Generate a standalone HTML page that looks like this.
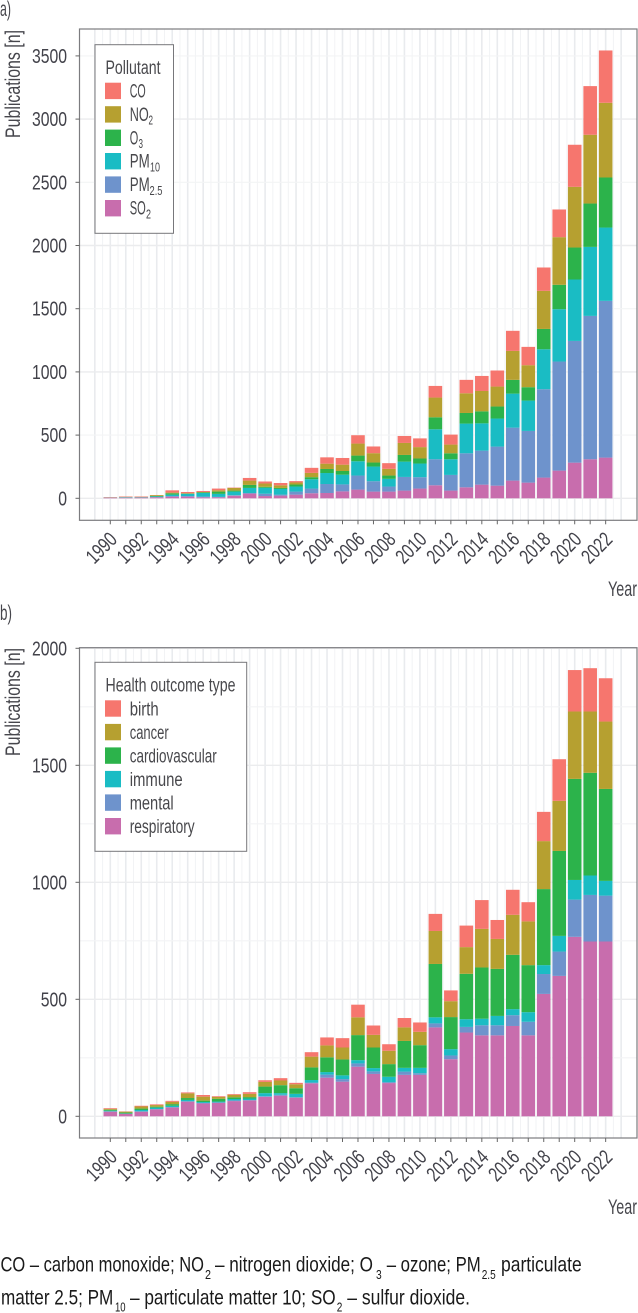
<!DOCTYPE html>
<html lang="en">
<head>
<meta charset="utf-8">
<title>Publications by pollutant and health outcome</title>
<style>
html,body{margin:0;padding:0;background:#fff;}
body{width:638px;height:1313px;overflow:hidden;}
svg{display:block;}
text{font-family:"Liberation Sans Narrow","Liberation Sans",sans-serif;}
.lg{font-size:19px;fill:#48484c;}
.lgs{font-size:12.5px;fill:#48484c;}
.ttl{font-size:21px;fill:#46464c;}
.cap{font-size:21px;fill:#1a1a1a;}
.caps{font-size:12.5px;fill:#1a1a1a;}
</style>
</head>
<body>
<svg id="figure" xmlns="http://www.w3.org/2000/svg" width="638" height="1313" viewBox="0 0 638 1313">
  <rect x="0" y="0" width="638" height="1313" fill="#fff"/>
  <g id="panel-a"></g>
  <g id="panel-b"></g>

  <text class="ttl" x="0" y="16" textLength="11" lengthAdjust="spacingAndGlyphs">a)</text>
  <text class="ttl" x="0" y="620" textLength="12" lengthAdjust="spacingAndGlyphs">b)</text>

  <text class="ttl" transform="translate(20,138) rotate(-90)" textLength="108" lengthAdjust="spacingAndGlyphs">Publications [n]</text>
  <text class="ttl" transform="translate(20,756) rotate(-90)" textLength="108" lengthAdjust="spacingAndGlyphs">Publications [n]</text>
  <text class="ttl" x="608" y="596" textLength="29" lengthAdjust="spacingAndGlyphs">Year</text>
  <text class="ttl" x="608" y="1214" textLength="29" lengthAdjust="spacingAndGlyphs">Year</text>

  <g>
    <rect x="95" y="44.7" width="78.5" height="188.6" fill="#fff" stroke="#77777b" stroke-width="1"/>
    <text class="lg" x="105.5" y="74" textLength="55" lengthAdjust="spacingAndGlyphs">Pollutant</text>
    <g>
      <rect x="105" y="82.7" width="16" height="16.4" fill="#F6766E"/>
      <text class="lg" x="129.7" y="97.5" textLength="16" lengthAdjust="spacingAndGlyphs">CO</text>
    </g>
    <g>
      <rect x="105" y="106.2" width="16" height="16.4" fill="#B6A030"/>
      <text class="lg" x="129.7" y="120.9" textLength="19" lengthAdjust="spacingAndGlyphs">NO</text>
      <text class="lgs" x="148.5" y="124.5" textLength="4.5" lengthAdjust="spacingAndGlyphs">2</text>
    </g>
    <g>
      <rect x="105" y="129.6" width="16" height="16.4" fill="#2CB34B"/>
      <text class="lg" x="129.7" y="144.3" textLength="8.5" lengthAdjust="spacingAndGlyphs">O</text>
      <text class="lgs" x="138.5" y="148" textLength="4.5" lengthAdjust="spacingAndGlyphs">3</text>
    </g>
    <g>
      <rect x="105" y="153" width="16" height="16.4" fill="#1ABCC4"/>
      <text class="lg" x="129.7" y="167.7" textLength="20" lengthAdjust="spacingAndGlyphs">PM</text>
      <text class="lgs" x="150" y="171.5" textLength="10" lengthAdjust="spacingAndGlyphs">10</text>
    </g>
    <g>
      <rect x="105" y="176.4" width="16" height="16.4" fill="#6E93CC"/>
      <text class="lg" x="129.7" y="191.1" textLength="20" lengthAdjust="spacingAndGlyphs">PM</text>
      <text class="lgs" x="149.5" y="194.9" textLength="13" lengthAdjust="spacingAndGlyphs">2.5</text>
    </g>
    <g>
      <rect x="105" y="200" width="16" height="16.4" fill="#C86DAD"/>
      <text class="lg" x="129.7" y="214.5" textLength="16" lengthAdjust="spacingAndGlyphs">SO</text>
      <text class="lgs" x="146" y="218.5" textLength="5" lengthAdjust="spacingAndGlyphs">2</text>
    </g>
  </g>

  <g>
    <rect x="95" y="662.3" width="151.7" height="189" fill="#fff" stroke="#77777b" stroke-width="1"/>
    <text class="lg" x="105.5" y="691.7" textLength="130" lengthAdjust="spacingAndGlyphs">Health outcome type</text>
    <g>
      <rect x="105" y="700.3" width="16" height="16.4" fill="#F6766E"/>
      <text class="lg" x="129.7" y="715.5" textLength="29" lengthAdjust="spacingAndGlyphs">birth</text>
    </g>
    <g>
      <rect x="105" y="723.9" width="16" height="16.4" fill="#B6A030"/>
      <text class="lg" x="129.7" y="739" textLength="39" lengthAdjust="spacingAndGlyphs">cancer</text>
    </g>
    <g>
      <rect x="105" y="747.4" width="16" height="16.4" fill="#2CB34B"/>
      <text class="lg" x="129.7" y="762.5" textLength="87" lengthAdjust="spacingAndGlyphs">cardiovascular</text>
    </g>
    <g>
      <rect x="105" y="770.9" width="16" height="16.4" fill="#1ABCC4"/>
      <text class="lg" x="129.7" y="786" textLength="53" lengthAdjust="spacingAndGlyphs">immune</text>
    </g>
    <g>
      <rect x="105" y="794.4" width="16" height="16.4" fill="#6E93CC"/>
      <text class="lg" x="129.7" y="809.5" textLength="44" lengthAdjust="spacingAndGlyphs">mental</text>
    </g>
    <g>
      <rect x="105" y="818" width="16" height="16.4" fill="#C86DAD"/>
      <text class="lg" x="129.7" y="833" textLength="65" lengthAdjust="spacingAndGlyphs">respiratory</text>
    </g>
  </g>

  <g>
    <text class="cap" x="0.5" y="1271.7" textLength="203.5" lengthAdjust="spacingAndGlyphs">CO – carbon monoxide; NO</text>
    <text class="caps" x="205" y="1279" textLength="6" lengthAdjust="spacingAndGlyphs">2</text>
    <text class="cap" x="215" y="1271.7" textLength="158" lengthAdjust="spacingAndGlyphs">– nitrogen dioxide; O</text>
    <text class="caps" x="376" y="1279" textLength="5.7" lengthAdjust="spacingAndGlyphs">3</text>
    <text class="cap" x="386.7" y="1271.7" textLength="94" lengthAdjust="spacingAndGlyphs">– ozone; PM</text>
    <text class="caps" x="481.7" y="1279" textLength="14" lengthAdjust="spacingAndGlyphs">2.5</text>
    <text class="cap" x="501" y="1271.7" textLength="80.7" lengthAdjust="spacingAndGlyphs">particulate</text>
    <text class="cap" x="1" y="1304.3" textLength="112.3" lengthAdjust="spacingAndGlyphs">matter 2.5; PM</text>
    <text class="caps" x="115" y="1311.7" textLength="10.6" lengthAdjust="spacingAndGlyphs">10</text>
    <text class="cap" x="130" y="1304.3" textLength="205.7" lengthAdjust="spacingAndGlyphs">– particulate matter 10; SO</text>
    <text class="caps" x="336.7" y="1311.7" textLength="5.6" lengthAdjust="spacingAndGlyphs">2</text>
    <text class="cap" x="347.3" y="1304.3" textLength="122.7" lengthAdjust="spacingAndGlyphs">– sulfur dioxide.</text>
  </g>
</svg>

<script>
// Shared categories
const years = [1990,1991,1992,1993,1994,1995,1996,1997,1998,1999,2000,2001,2002,2003,2004,2005,2006,2007,2008,2009,2010,2011,2012,2013,2014,2015,2016,2017,2018,2019,2020,2021,2022];
const yearTickLabels = [1990,1992,1994,1996,1998,2000,2002,2004,2006,2008,2010,2012,2014,2016,2018,2020,2022];

// Panel a values (stack order bottom to top: SO2, PM2.5, PM10, O3, NO2, CO)
const so2Values  = [4,5,6,8,13,13,8,8,21,37,18,21,29,40,42,55,69,53,53,61,77,103,61,87,108,100,140,124,164,219,282,309,322];
const pm25Values = [1,2,1,2,5,5,5,3,3,5,18,8,24,37,71,55,111,82,40,108,90,206,124,269,269,309,419,409,699,863,963,1134,1240];
const pm10Values = [1,2,2,5,11,16,29,24,29,40,47,45,40,74,87,77,113,116,61,121,108,237,124,235,216,222,269,240,316,414,486,546,580];
const o3Values   = [0,1,1,3,11,3,5,18,8,24,8,8,16,16,32,29,45,32,26,53,40,95,47,84,95,95,109,106,161,193,253,343,396];
const no2Values  = [1,2,2,7,5,3,3,11,21,34,26,21,16,34,42,50,95,74,53,95,90,156,69,156,161,158,229,174,301,377,480,544,591];
const coValues   = [3,3,3,1,18,10,8,13,3,21,16,18,11,40,50,53,66,53,45,55,69,92,79,106,119,127,159,145,185,219,333,385,414];

// Panel b values (stack order bottom to top: respiratory, mental, immune, cardiovascular, cancer, birth)
const respiratoryValues    = [20,11,20,30,38,63,55,58,65,68,83,88,80,141,165,148,212,181,142,177,177,380,244,358,346,346,386,346,523,600,767,747,747];
const mentalValues         = [1,0,1,1,1,1,2,1,3,1,3,4,1,3,13,11,14,11,4,14,7,17,16,24,43,43,46,58,85,104,159,199,196];
const immuneValues         = [3,1,6,6,6,6,4,4,6,7,13,7,15,11,11,16,14,14,23,16,23,26,27,33,28,40,26,41,38,67,84,83,63];
const cardiovascularValues = [4,4,6,4,7,8,6,12,7,6,28,34,24,54,63,68,107,88,54,115,97,228,137,194,219,201,232,201,325,363,432,439,393];
const cancerValues         = [4,4,9,7,10,20,17,8,11,14,20,20,17,46,51,51,76,54,57,58,57,141,68,114,165,128,171,187,205,214,288,262,288];
const birthValues          = [3,1,3,3,4,4,7,3,3,7,7,10,6,19,34,40,54,40,28,40,40,73,46,92,123,81,107,82,125,178,177,185,185];

// Axis tick labels
const yTicksA = [0,500,1000,1500,2000,2500,3000,3500];
const yTicksB = [0,500,1000,1500,2000];

const seriesA = [
  {name:'so2',   values:so2Values,  color:'#C86DAD'},
  {name:'pm25',  values:pm25Values, color:'#6E93CC'},
  {name:'pm10',  values:pm10Values, color:'#1ABCC4'},
  {name:'o3',    values:o3Values,   color:'#2CB34B'},
  {name:'no2',   values:no2Values,  color:'#B6A030'},
  {name:'co',    values:coValues,   color:'#F6766E'}
];
const seriesB = [
  {name:'respiratory',    values:respiratoryValues,    color:'#C86DAD'},
  {name:'mental',         values:mentalValues,         color:'#6E93CC'},
  {name:'immune',         values:immuneValues,         color:'#1ABCC4'},
  {name:'cardiovascular', values:cardiovascularValues, color:'#2CB34B'},
  {name:'cancer',         values:cancerValues,         color:'#B6A030'},
  {name:'birth',          values:birthValues,          color:'#F6766E'}
];

const NS = 'http://www.w3.org/2000/svg';
const plotLeft = 79.5;
const plotRight = 637;
const barWidth = 13.6;

function xScale(year) {
  return 110.3 + (year - 1990) * 15.48;
}

function makeYScale(zeroY, pxPerUnit) {
  return function (value) {
    return zeroY - value * pxPerUnit;
  };
}

function addLine(parent, x1, y1, x2, y2, stroke, width) {
  const line = document.createElementNS(NS, 'line');
  line.setAttribute('x1', x1);
  line.setAttribute('y1', y1);
  line.setAttribute('x2', x2);
  line.setAttribute('y2', y2);
  line.setAttribute('stroke', stroke);
  line.setAttribute('stroke-width', width);
  parent.appendChild(line);
  return line;
}

function drawPanel(rootId, series, yTicks, minorStep, top, bottom, yScale, suffix) {
  const root = document.getElementById(rootId);
  const maxTick = yTicks[yTicks.length - 1];

  // Vertical gridlines: whole years and half years
  const grid = document.createElementNS(NS, 'g');
  
  
  root.appendChild(grid);
  for (let half = 0; half <= 68; half++) {
    const yr = 1989 + half / 2;
    const whole = half % 2 === 0;
    addLine(grid, xScale(yr), top, xScale(yr), bottom, whole ? '#e9ebee' : '#f2f3f5', whole ? 1.6 : 1);
  }

  // Horizontal gridlines
  for (let v = 0; v <= maxTick; v += minorStep) {
    const major = v % (minorStep * 2) === 0;
    addLine(grid, plotLeft, yScale(v), plotRight, yScale(v), major ? '#ebecee' : '#f3f4f5', major ? 1.4 : 1.1);
  }

  // Stacked bars
  const bars = document.createElementNS(NS, 'g');
  
  
  root.appendChild(bars);
  years.forEach(function (yr, i) {
    let cumulative = 0;
    series.forEach(function (s) {
      const v = s.values[i];
      const y0 = yScale(cumulative);
      const y1 = yScale(cumulative + v);
      cumulative += v;
      if (v <= 0) return;
      const rect = document.createElementNS(NS, 'rect');
      rect.setAttribute('x', xScale(yr) - barWidth / 2);
      rect.setAttribute('y', y1);
      rect.setAttribute('width', barWidth);
      rect.setAttribute('height', y0 - y1);
      rect.setAttribute('fill', s.color);
      
      
      bars.appendChild(rect);
    });
  });

  // Panel border
  const border = document.createElementNS(NS, 'rect');
  border.setAttribute('x', plotLeft);
  border.setAttribute('y', top);
  border.setAttribute('width', plotRight - plotLeft);
  border.setAttribute('height', bottom - top);
  border.setAttribute('fill', 'none');
  border.setAttribute('stroke', '#7c7c7f');
  border.setAttribute('stroke-width', '1.2');
  
  
  root.appendChild(border);

  // Y axis ticks and labels
  yTicks.forEach(function (tick) {
    const y = yScale(tick);
    addLine(root, plotLeft - 4, y, plotLeft, y, '#666', 1);
    const label = document.createElementNS(NS, 'text');
    label.textContent = String(tick);
    label.setAttribute('x', 67);
    label.setAttribute('y', y + 7);
    label.setAttribute('text-anchor', 'end');
    label.setAttribute('font-size', '20.5');
    label.setAttribute('fill', '#42424a');
    label.setAttribute('textLength', String(tick).length * 8.75);
    label.setAttribute('lengthAdjust', 'spacingAndGlyphs');
    
    
    root.appendChild(label);
  });

  // X axis ticks for every year
  years.forEach(function (yr) {
    addLine(root, xScale(yr), bottom, xScale(yr), bottom + 4, '#666', 1);
  });

  // X axis labels every two years
  yearTickLabels.forEach(function (yr) {
    const label = document.createElementNS(NS, 'text');
    label.textContent = String(yr);
    label.setAttribute('transform', 'translate(' + (xScale(yr) + 8) + ',' + (bottom + 20.5) + ') rotate(-45)');
    label.setAttribute('text-anchor', 'end');
    label.setAttribute('font-size', '20.5');
    label.setAttribute('fill', '#42424a');
    label.setAttribute('textLength', '34');
    label.setAttribute('lengthAdjust', 'spacingAndGlyphs');
    
    
    root.appendChild(label);
  });
}

drawPanel('panel-a', seriesA, yTicksA, 500, 29, 520.3, makeYScale(498.3, 0.1264), 'a');
drawPanel('panel-b', seriesB, yTicksB, 250, 647.7, 1138, makeYScale(1116.3, 0.234), 'b');
</script>
</body>
</html>
